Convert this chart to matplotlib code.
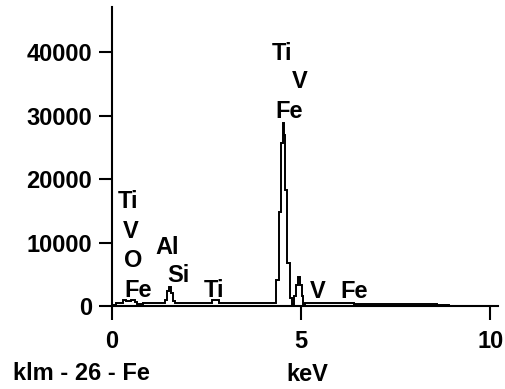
import matplotlib
matplotlib.use("Agg")
import matplotlib.pyplot as plt

# EDS spectrum: channel edges (keV) and counts per channel
edges = [0.00, 0.10, 0.28, 0.36, 0.50, 0.60, 0.66, 0.82, 1.40, 1.46, 1.51, 1.56,
         1.61, 1.66, 2.65, 2.83, 4.34, 4.42, 4.47, 4.52, 4.55, 4.58, 4.63, 4.71,
         4.76, 4.82, 4.87, 4.92, 4.97, 5.02, 5.06, 5.11, 6.40, 7.10, 8.60, 8.90,
         10.20]
counts = [150, 470, 900, 750, 900, 600, 350, 470, 950, 2400, 3000, 2000,
          800, 470, 900, 470, 4100, 14800, 25700, 28800, 26900, 18300, 6800, 1260,
          300, 1600, 3300, 4600, 3300, 1500, 300, 470, 380, 300, 150, 0]

x_ticks = [0, 5, 10]
y_ticks = [0, 10000, 20000, 30000, 40000]

# element labels: text, energy (keV), counts where the label sits
labels = ["Ti", "V", "O", "Fe", "Al", "Si", "Ti", "Ti", "V", "Fe", "V", "Fe"]
label_kev = [0.16, 0.29, 0.32, 0.32, 1.16, 1.46, 2.43, 4.23, 4.76, 4.31, 5.24, 6.03]
label_cts = [15400, 10700, 6100, 1400, 8200, 3800, 1400, 38700, 34300, 29600, 1260, 1260]

plt.rcParams['font.family'] = ['Liberation Sans', 'DejaVu Sans']
plt.rcParams['font.weight'] = 'bold'
plt.rcParams['font.size'] = 17

fig = plt.figure(figsize=(5.06, 3.89), dpi=100)
ax = fig.add_axes([112 / 506, 83 / 389, 386 / 506, 299 / 389])

ax.stairs(counts, edges, color="black", linewidth=1.4, baseline=None)

for t, e, c in zip(labels, label_kev, label_cts):
    ax.text(e, c, t, fontsize=17, fontweight="bold", va="baseline", ha="left")

ax.set_xlim(0, 10.2)
ax.set_ylim(0, 47100)
ax.set_xticks(x_ticks)
ax.set_yticks(y_ticks)
ax.set_xticklabels([str(v) for v in x_ticks])
ax.set_yticklabels([str(v) for v in y_ticks])

for s in ["top", "right"]:
    ax.spines[s].set_visible(False)
for s in ["left", "bottom"]:
    ax.spines[s].set_linewidth(1.5)
ax.tick_params(axis="x", length=10, width=1.5, pad=7, direction="out")
ax.tick_params(axis="y", length=9.5, width=1.5, pad=5, direction="out")

fig.text(13 / 506, (389 - 380) / 389, "klm - 26 - Fe", fontsize=17,
         fontweight="bold", va="baseline", ha="left")
fig.text(307 / 506, (389 - 381) / 389, "keV", fontsize=17,
         fontweight="bold", va="baseline", ha="center")

fig.savefig("out.png", dpi=100)
